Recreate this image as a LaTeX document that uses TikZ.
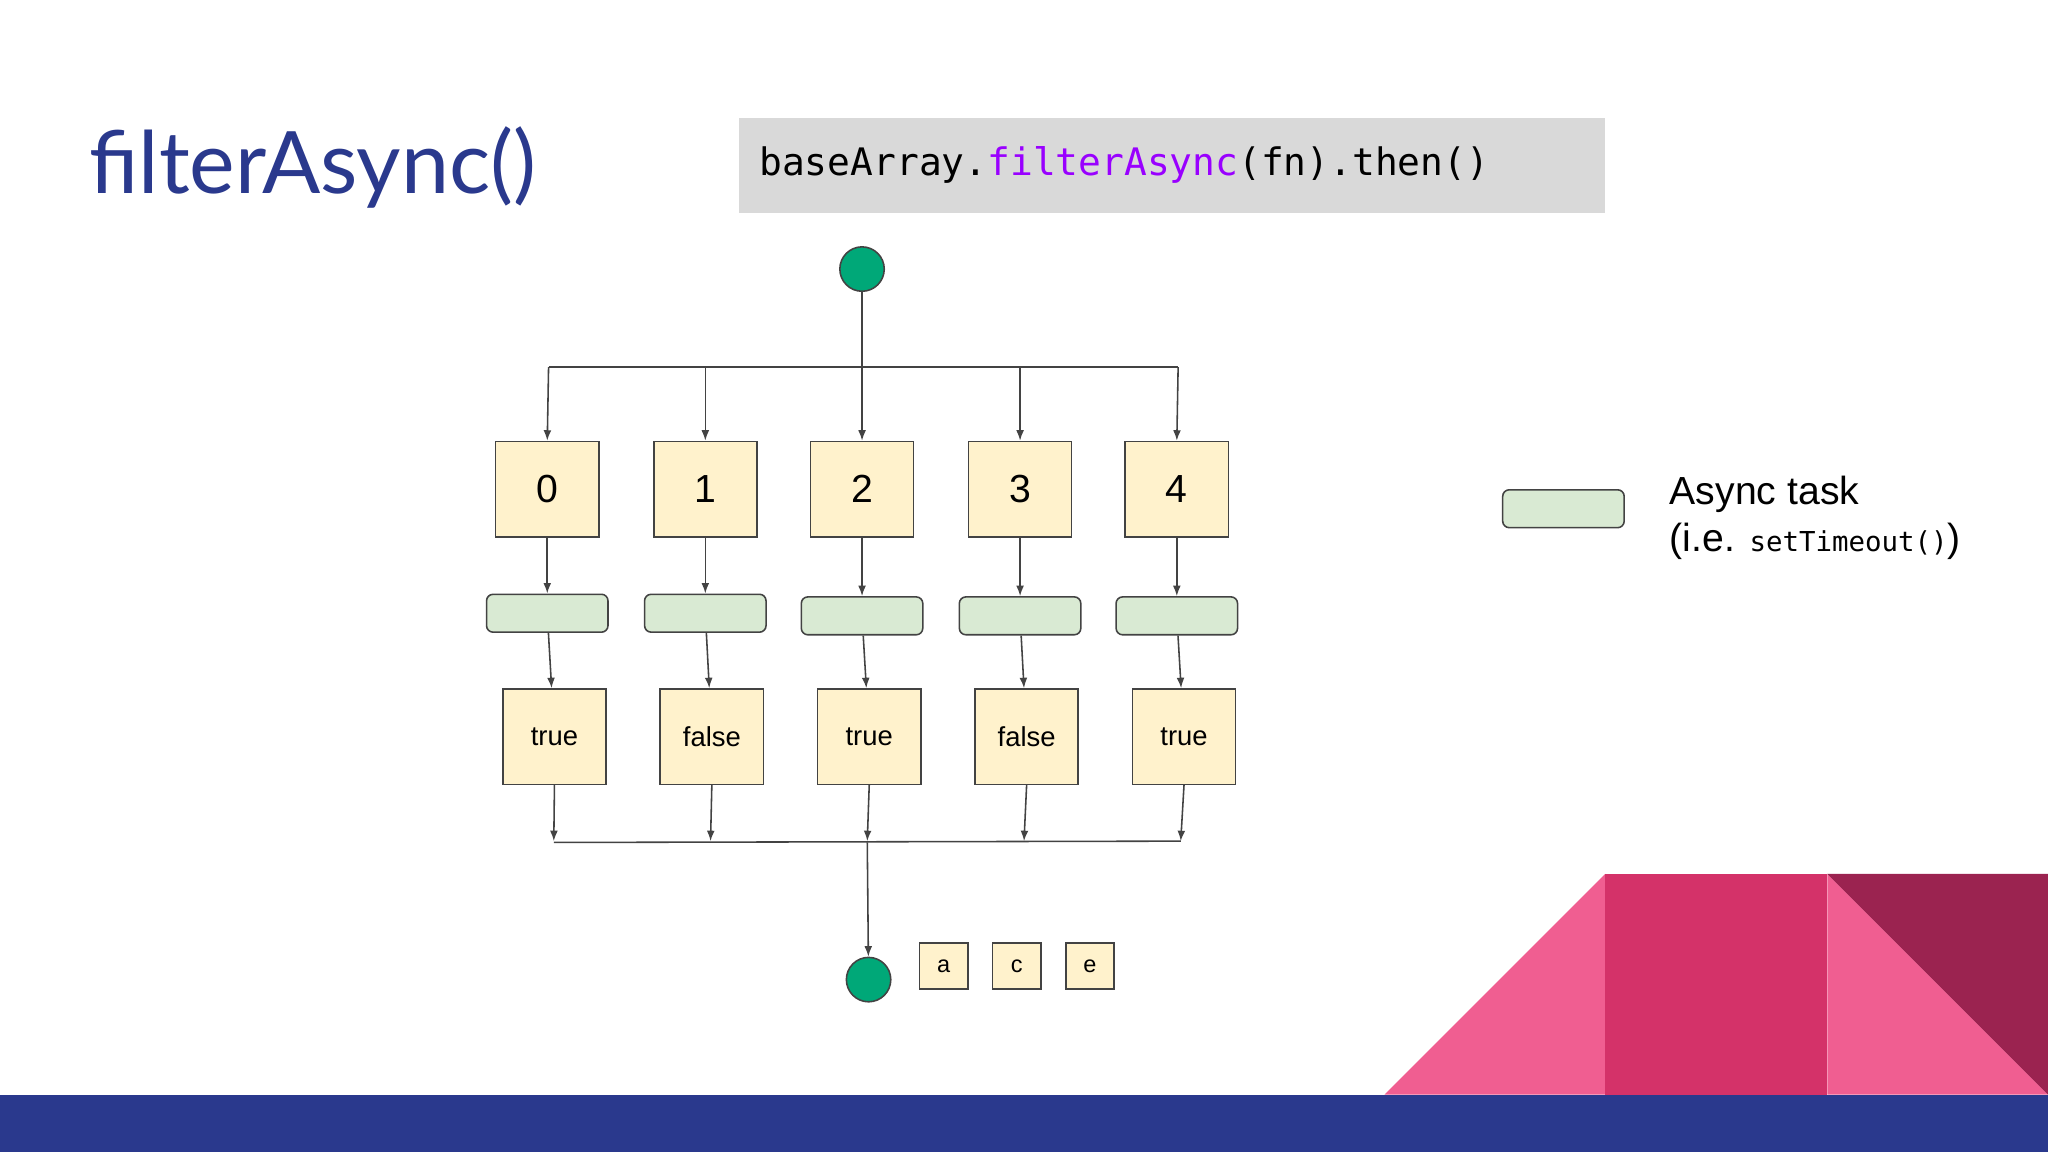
\documentclass[tikz,border=0pt]{standalone}
\usepackage{fontspec}
\setmainfont{Liberation Sans}
\newfontfamily\titlefont{Lato}
\newfontfamily\codefont{DejaVu Sans Mono}
\usetikzlibrary{arrows.meta}
\definecolor{ttl}{RGB}{42,57,141}
\definecolor{boxy}{RGB}{255,242,204}
\definecolor{boxg}{RGB}{217,234,211}
\definecolor{dot}{RGB}{0,168,120}
\definecolor{ln}{RGB}{67,67,67}
\definecolor{pk1}{RGB}{240,94,145}
\definecolor{pk2}{RGB}{212,50,105}
\definecolor{pk3}{RGB}{155,35,80}
\definecolor{purp}{RGB}{153,0,255}
\begin{document}
\begin{tikzpicture}[x=0.5pt,y=-0.5pt,
  num/.style={draw=ln,fill=boxy,line width=0.6pt,minimum width=39.5pt,minimum height=36.5pt,inner sep=0,font=\fontsize{15}{18}\selectfont},
  res/.style={num,font=\fontsize{10.5}{13}\selectfont},
  task/.style={draw=ln,fill=boxg,line width=0.6pt,rounded corners=2.5pt,minimum width=46.5pt,minimum height=14.5pt,inner sep=0},
  lt/.style={draw=ln,fill=boxy,line width=0.6pt,minimum width=18.5pt,minimum height=17.5pt,inner sep=0,font=\fontsize{9}{11}\selectfont},
  dt/.style={circle,draw=ln,fill=dot,line width=0.6pt,minimum size=17pt,inner sep=0},
  ar/.style={draw=ln,line width=0.6pt,-{Latex[length=4pt,width=3pt]}},
  pl/.style={draw=ln,line width=0.6pt}]
\useasboundingbox (0,0) rectangle (1568,882);
\fill[white] (0,0) rectangle (1568,882);
% bottom decorations
\fill[pk1] (1060,838) -- (1229,669) -- (1229,838) -- cycle;
\fill[pk2] (1229,669) rectangle (1399,838);
\fill[pk1] (1399,669) -- (1568,838) -- (1399,838) -- cycle;
\fill[pk3] (1399,669) -- (1568,669) -- (1568,838) -- cycle;
\fill[ttl] (0,838) rectangle (1568,882);
% title
\node[anchor=base west,inner sep=0,text=ttl,font=\titlefont\fontsize{33}{40}\selectfont] (title) at (68,148) {filterAsync()};
\fill[black!15] (566,90) rectangle (1229,163);
\node[anchor=base west,inner sep=0,font=\codefont\fontsize{14.5}{18}\selectfont] (code) at (581,134) {baseArray.\textcolor{purp}{filterAsync}(fn).then()};
% top
\node[dt] (top) at (660,206) {};
\coordinate (jt) at (660,281);
\node[num] (n0) at (419,374.5) {0};
\node[num] (n1) at (540,374.5) {1};
\node[num] (n2) at (660,374.5) {2};
\node[num] (n3) at (781,374.5) {3};
\node[num] (n4) at (901,374.5) {4};
\node[task] (t0) at (419,469.5) {};
\node[task] (t1) at (540,469.5) {};
\node[task] (t2) at (660,471.5) {};
\node[task] (t3) at (781,471.5) {};
\node[task] (t4) at (901,471.5) {};
\node[res] (r0) at (424.5,564) {true};
\node[res] (r1) at (545,564) {false};
\node[res] (r2) at (665.5,564) {true};
\node[res] (r3) at (786,564) {false};
\node[res] (r4) at (906.5,564) {true};
\draw[pl] (top) -- (jt);
\draw[pl] (420,281) -- (902,281);
\foreach \i/\x in {0/420,1/540,2/660,3/781,4/902}{
  \draw[ar] (\x,281) -- (n\i.north);
  \draw[ar] (n\i) -- (t\i);
  \draw[ar] (t\i) -- (r\i);
}
\foreach \i/\x in {0/424,1/544,2/664,3/784,4/904}{
  \draw[ar] (r\i.south) -- (\x,644);
}
\draw[pl] (424,645) -- (904,644);
\node[dt] (bot) at (665,750) {};
\draw[ar] (664,645) -- (bot);
\node[lt] (la) at (722.5,739.5) {a};
\node[lt] (lc) at (778.5,739.5) {c};
\node[lt] (le) at (834.5,739.5) {e};
% legend
\node[task] (leg) at (1197,389.5) {};
\node[anchor=base west,inner sep=0,font=\fontsize{15}{18}\selectfont] (l1) at (1278,386) {Async task};
\node[anchor=base west,inner sep=0,font=\fontsize{15}{18}\selectfont] (l2) at (1278,422) {(i.e. {\codefont\fontsize{10.5}{12}\selectfont setTimeout()})};
\end{tikzpicture}
\end{document}
